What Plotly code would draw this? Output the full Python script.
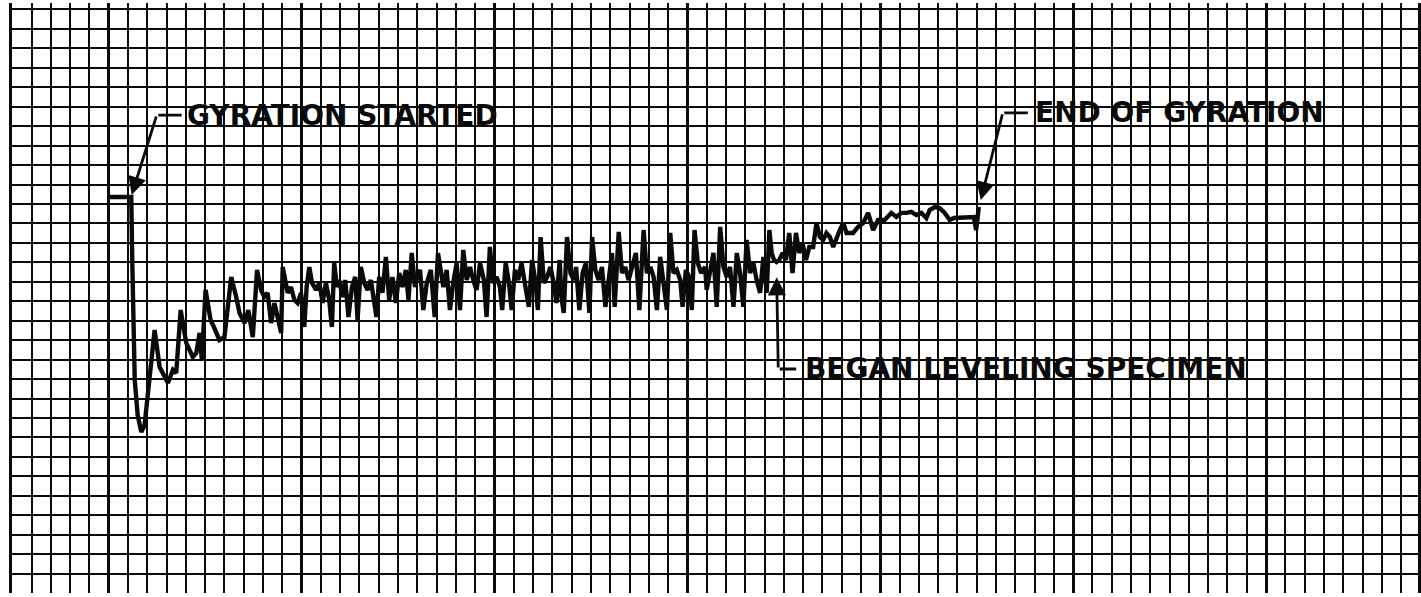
import plotly.graph_objects as go

# chart-paper divisions (x: time divisions from left border, y: divisions from bottom line)
time_div = [
    5.05, 6.17, 6.22, 6.35, 6.50, 6.69, 6.86, 7.12, 7.38, 7.64,
    7.90, 8.07, 8.33, 8.50, 8.73, 9.02, 9.36, 9.54, 9.71, 9.83,
    10.02, 10.11, 10.28, 10.45, 10.74, 11.00, 11.35, 11.61, 11.78, 12.04,
    12.24, 12.47, 12.69, 12.90, 13.07, 13.24, 13.42, 13.59, 13.76, 13.94,
    14.02, 14.16, 14.28, 14.45, 14.62, 14.79, 14.97, 15.14, 15.26, 15.40,
    15.54, 15.75, 15.92, 16.09, 16.26, 16.43, 16.57, 16.69, 16.83, 16.95,
    17.12, 17.26, 17.43, 17.61, 17.78, 17.90, 18.07, 18.25, 18.42, 18.59,
    18.76, 18.88, 19.02, 19.19, 19.37, 19.54, 19.71, 19.89, 20.06, 20.23,
    20.40, 20.54, 20.71, 20.88, 21.00, 21.14, 21.31, 21.49, 21.70, 21.90,
    22.07, 22.21, 22.35, 22.52, 22.69, 22.86, 23.04, 23.21, 23.38, 23.56,
    23.73, 23.90, 24.07, 24.25, 24.45, 24.59, 24.76, 24.93, 25.11, 25.28,
    25.40, 25.58, 25.75, 25.89, 26.06, 26.23, 26.40, 26.61, 26.78, 26.95,
    27.13, 27.25, 27.39, 27.56, 27.73, 27.90, 28.07, 28.21, 28.38, 28.47,
    28.59, 28.76, 28.94, 29.11, 29.23, 29.40, 29.57, 29.74, 29.92, 30.06,
    30.23, 30.40, 30.57, 30.75, 30.92, 31.09, 31.23, 31.44, 31.61, 31.78,
    31.95, 32.12, 32.33, 32.51, 32.73, 32.90, 33.08, 33.25, 33.42, 33.59,
    33.76, 33.94, 34.11, 34.28, 34.45, 34.63, 34.75, 34.92, 35.09, 35.23,
    35.37, 35.54, 35.71, 35.92, 36.00, 36.18, 36.35, 36.52, 36.70, 36.87,
    37.04, 37.21, 37.39, 37.56, 37.73, 37.90, 38.07, 38.25, 38.42, 38.59,
    38.77, 38.94, 39.11, 39.25, 39.37, 39.49, 39.62, 39.76, 39.94, 40.11,
    40.28, 40.45, 40.63, 40.80, 40.97, 41.15, 41.32, 41.52, 41.69, 41.87,
    42.04, 42.21, 42.39, 42.56, 42.73, 42.90, 43.08, 43.25, 43.59, 43.85,
    44.11, 44.37, 44.63, 44.89, 45.23, 45.40, 45.57, 45.83, 46.09, 46.35,
    46.61, 46.87, 47.13, 47.39, 47.56, 47.82, 48.08, 48.34, 48.60, 48.82,
    49.54, 49.85, 49.97, 50.11,
]

reading_div = [
    19.36, 19.36, 16.12, 9.95, 8.16, 7.28, 7.64, 9.95, 12.52, 10.62,
    10.11, 9.80, 10.47, 10.31, 13.55, 11.86, 11.14, 11.34, 12.37, 10.98,
    14.58, 13.91, 13.04, 12.68, 12.01, 12.16, 15.25, 14.22, 13.40, 12.88,
    13.55, 12.16, 15.61, 14.58, 14.22, 14.43, 12.88, 13.91, 13.19, 12.37,
    15.76, 14.94, 14.43, 14.73, 14.07, 13.91, 14.43, 12.68, 14.73, 15.76,
    14.94, 14.58, 14.94, 13.91, 14.94, 14.07, 12.68, 15.97, 14.73, 15.09,
    14.22, 15.09, 13.19, 14.73, 15.25, 13.04, 15.76, 14.94, 14.58, 15.09,
    14.07, 13.19, 15.25, 14.43, 16.28, 14.07, 15.25, 13.91, 15.45, 14.73,
    15.61, 14.07, 16.48, 14.73, 15.35, 15.61, 13.55, 14.94, 15.61, 13.19,
    16.48, 15.61, 14.73, 15.61, 13.55, 14.94, 15.97, 13.55, 16.64, 15.09,
    15.76, 15.09, 14.58, 15.97, 15.09, 13.19, 16.79, 14.94, 15.25, 14.73,
    13.55, 15.97, 14.94, 13.55, 15.61, 15.09, 15.97, 14.73, 13.71, 16.12,
    14.94, 13.55, 17.30, 14.94, 15.25, 15.76, 14.94, 13.91, 16.12, 14.22,
    13.40, 17.30, 15.45, 15.09, 15.76, 13.55, 15.45, 15.97, 13.40, 17.30,
    15.61, 15.09, 15.76, 13.71, 15.25, 16.48, 13.71, 17.56, 15.45, 15.76,
    15.09, 15.76, 16.48, 13.55, 17.66, 15.45, 15.76, 15.25, 13.55, 16.28,
    15.09, 13.55, 17.51, 15.45, 15.61, 15.09, 13.71, 15.61, 15.25, 13.55,
    17.66, 15.97, 15.45, 15.76, 14.58, 15.61, 16.48, 13.71, 17.82, 15.76,
    15.25, 15.76, 13.71, 16.48, 15.45, 13.71, 17.15, 15.45, 15.97, 15.09,
    14.43, 16.28, 14.43, 17.66, 16.48, 16.12, 16.02, 16.12, 16.48, 16.12,
    17.51, 15.45, 17.51, 16.48, 16.99, 16.12, 16.79, 16.79, 18.02, 17.30,
    17.15, 17.51, 17.30, 16.79, 17.30, 17.66, 18.02, 17.51, 17.51, 17.82,
    18.02, 18.54, 17.66, 18.18, 18.18, 18.33, 18.54, 18.33, 18.54, 18.54,
    18.59, 18.43, 18.54, 18.28, 18.69, 18.84, 18.79, 18.54, 18.18, 18.28,
    18.28, 18.33, 17.66, 18.84,
]

# annotation labels and where they point (tip), bend and text start, in divisions
labels = ["GYRATION STARTED", "END OF GYRATION", "BEGAN LEVELING SPECIMEN"]
tip_x = [6.19, 50.21, 39.63]
tip_y = [19.46, 19.20, 15.24]
bend_x = [7.49, 51.35, 39.71]
bend_y = [23.57, 23.68, 10.52]
leader_end_x = [8.78, 52.65, 40.64]
text_x = [8.93, 52.90, 41.00]

INK = "#0a0a0a"

fig = go.Figure()
fig.add_trace(go.Scatter(
    x=time_div, y=reading_div, mode="lines",
    line=dict(color=INK, width=4.4), hoverinfo="skip", showlegend=False,
))

annotations = []
for lab, tx, ty, bx, by, lx, sx in zip(labels, tip_x, tip_y, bend_x, bend_y, leader_end_x, text_x):
    annotations.append(dict(
        x=tx, y=ty, ax=bx, ay=by, xref="x", yref="y", axref="x", ayref="y",
        text="", showarrow=True, arrowhead=2, arrowsize=1.3, arrowwidth=2.8,
        arrowcolor=INK, standoff=0, startstandoff=0,
    ))
    annotations.append(dict(
        x=lx, y=by, ax=bx, ay=by, xref="x", yref="y", axref="x", ayref="y",
        text="", showarrow=True, arrowhead=0, arrowwidth=2.8, arrowcolor=INK,
    ))
    annotations.append(dict(
        x=sx, y=by, xref="x", yref="y", text=lab, showarrow=False,
        xanchor="left", yanchor="middle",
        font=dict(family="DejaVu Sans, sans-serif", size=28, color=INK, weight="bold"),
    ))

W, H = 1421, 597
fig.update_layout(
    width=W, height=H, autosize=False,
    margin=dict(l=0, r=0, t=0, b=0),
    paper_bgcolor="white", plot_bgcolor="white",
    annotations=annotations,
    xaxis=dict(
        domain=[12 / W, 1], range=[-0.015, -0.015 + 1409 / 19.33],
        tick0=5, dtick=10, showgrid=True, gridcolor=INK, gridwidth=3.4,
        minor=dict(tick0=0, dtick=1, showgrid=True, gridcolor=INK, gridwidth=2.3),
        showticklabels=False, ticks="", zeroline=False, showline=False, fixedrange=True,
    ),
    yaxis=dict(
        domain=[4 / H, 594 / H], range=[(573.7 - 593) / 19.46, (573.7 - 3) / 19.46],
        tick0=0, dtick=1, showgrid=True, gridcolor=INK, gridwidth=2.4,
        showticklabels=False, ticks="", zeroline=False,
        showline=True, mirror=True, linecolor=INK, linewidth=2.5, fixedrange=True,
    ),
)

fig.write_html(
    "out.html",
    config={"displayModeBar": False},
    post_script="document.body.style.margin='0px';document.body.style.padding='0px';",
)
